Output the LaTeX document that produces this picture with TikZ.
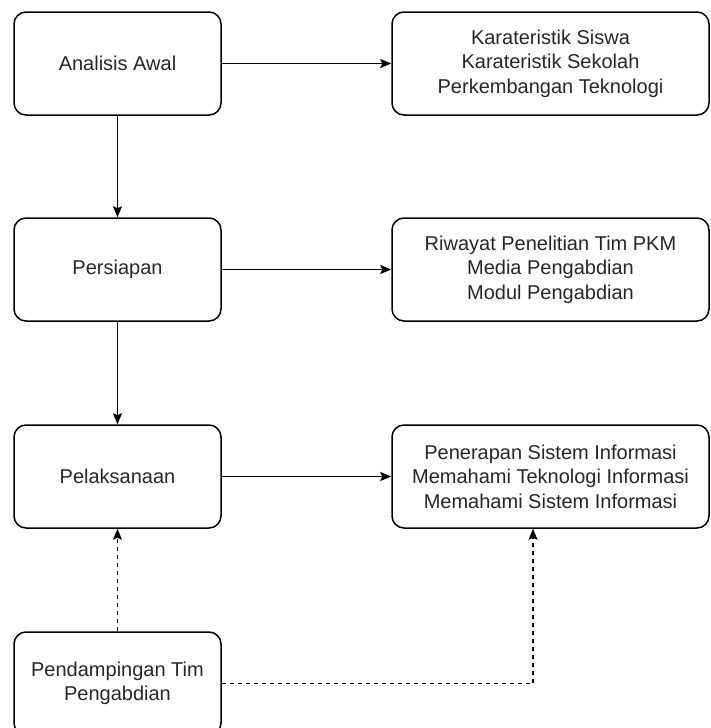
\documentclass[tikz,border=0pt]{standalone}
\usepackage{fontspec}
\setmainfont{Liberation Sans}
\usetikzlibrary{arrows.meta}
\begin{document}
\begin{tikzpicture}[x=1pt,y=1pt,
  box/.style={draw=black, line width=1.5pt, rounded corners=12pt, inner sep=0pt,
    align=center, font=\fontsize{20}{24.5}\selectfont, text=black!85},
  lbox/.style={box, minimum width=207pt, minimum height=103pt},
  rbox/.style={box, minimum width=317pt, minimum height=103pt},
  conn/.style={line width=1.5pt, -{Stealth[length=11pt,width=9pt,inset=2pt]}},
  dconn/.style={conn, dash pattern=on 4pt off 4pt}]
\useasboundingbox (0,0) rectangle (710,-728);
\node[lbox] (a1) at (117.5,-63.5) {Analisis Awal};
\node[lbox] (a2) at (117.5,-269.5) {Persiapan};
\node[lbox] (a3) at (117.5,-476.5) {Pelaksanaan};
\node[lbox] (a4) at (117.5,-683.5) {Pendampingan Tim\\Pengabdian};
\node[rbox] (b1) at (550.5,-63.5) {Karateristik Siswa\\Karateristik Sekolah\\Perkembangan Teknologi};
\node[rbox] (b2) at (550.5,-269.5) {Riwayat Penelitian Tim PKM\\Media Pengabdian\\Modul Pengabdian};
\node[rbox] (b3) at (550.5,-476.5) {Penerapan Sistem Informasi\\Memahami Teknologi Informasi\\Memahami Sistem Informasi};
\coordinate (c1) at (533,-683.5);
\draw[conn] (a1) -- (b1);
\draw[conn] (a2) -- (b2);
\draw[conn] (a3) -- (b3);
\draw[conn] (a1) -- (a2);
\draw[conn] (a2) -- (a3);
\draw[dconn] (a4) -- (a3);
\draw[dconn] (a4.east) -- (c1) -- (c1 |- b3.south);
\end{tikzpicture}
\end{document}
